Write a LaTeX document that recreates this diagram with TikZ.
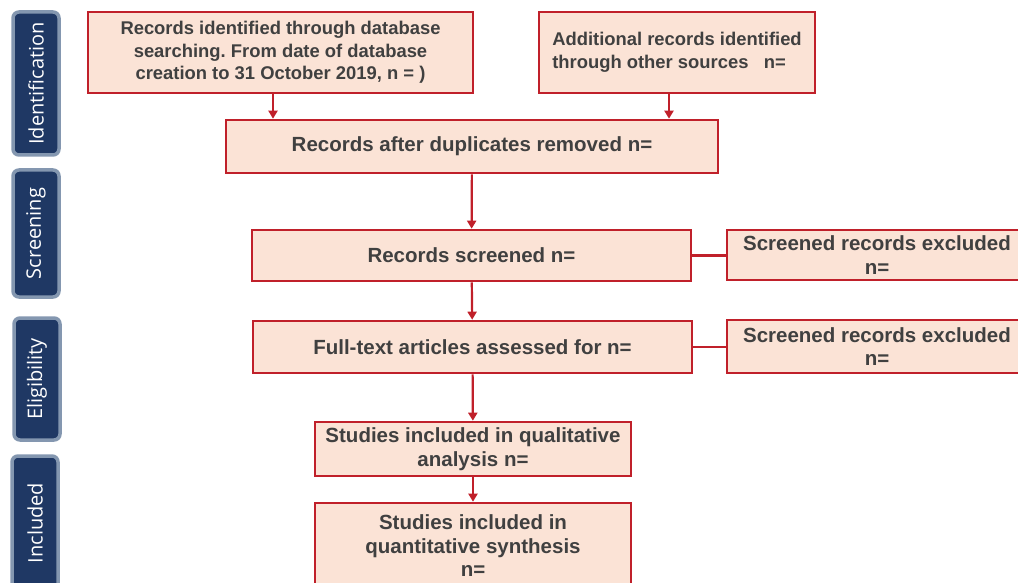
\documentclass[tikz,border=0pt]{standalone}
\usepackage{fontspec}
\setmainfont{Liberation Sans}
\newfontfamily\stagefont{Open Sans}
\usetikzlibrary{arrows.meta}
\definecolor{boxfill}{RGB}{251,227,214}
\definecolor{boxline}{RGB}{192,32,42}
\definecolor{boxtext}{RGB}{64,64,64}
\definecolor{stagefill}{RGB}{31,56,100}
\definecolor{stageline}{RGB}{132,151,176}
\frenchspacing

\begin{document}
\begin{tikzpicture}[x=1pt, y=-1pt,
        box/.style={rectangle, draw=boxline, fill=boxfill, line width=2.6pt, align=center, text=boxtext, font=\fontsize{20.5}{23.5}\selectfont\bfseries, inner sep=0pt},
        smallbox/.style={box, font=\fontsize{18.4}{22.5}\selectfont\bfseries},
        stage/.style={rectangle, rounded corners=6pt, draw=stageline, fill=stagefill, line width=3.5pt, text=white, font=\stagefont\fontsize{20}{22}\selectfont, rotate=90, inner sep=0pt, minimum height=46pt},
        arrow/.style={-{Triangle[length=8pt,width=9pt]}, line width=2.2pt, boxline},
        link/.style={line width=2.2pt, boxline}]

        \useasboundingbox (0,0) rectangle (1018,583);

        % Stages
        \node[stage, minimum width=143pt] (ident) at (36,83.5) {Identification};
        \node[stage, minimum width=127pt] (screen) at (36,233.5) {Screening};
        \node[stage, minimum width=122pt] (elig) at (37,379) {Eligibility};
        \node[stage, minimum width=134pt] (incl) at (35,523) {Included};

        % Identification
        \node[smallbox, minimum width=385pt, minimum height=81pt] (db) at (280.5,52.5) {Records identified through database\\searching. From date of database\\creation to 31 October 2019, n = )};
        \node[smallbox, minimum width=276pt, minimum height=81pt, align=left] (other) at (677,52.5) {Additional records identified\\through other sources \ \ n=};
        \node[box, minimum width=492pt, minimum height=53pt] (dup) at (472,146.5) {Records after duplicates removed n=};

        % Screening
        \node[box, minimum width=439pt, minimum height=51pt] (screened) at (471.5,255.5) {Records screened n=};
        \node[box, minimum width=300pt, minimum height=50pt] (excl1) at (877,255) {Screened records excluded\\n=};

        % Eligibility
        \node[box, minimum width=439pt, minimum height=52pt] (fulltext) at (472.5,347) {Full-text articles assessed for n=};
        \node[box, minimum width=300pt, minimum height=53pt] (excl2) at (877,346.5) {Screened records excluded\\n=};

        % Included
        \node[box, minimum width=316pt, minimum height=54pt] (qual) at (473,449) {Studies included in qualitative\\analysis n=};
        \node[box, minimum width=316pt, minimum height=86pt] (quant) at (473,546) {Studies included in\\quantitative synthesis\\n=};

        % Arrows
        \draw[arrow] ([xshift=-7.5pt]db.south) -- ([xshift=-7.5pt]db.south |- dup.north);
        \draw[arrow] ([xshift=-8pt]other.south) -- ([xshift=-8pt]other.south |- dup.north);
        \draw[arrow] (dup) -- (screened);
        \draw[link] (screened.east) -- (screened.east -| excl1.west);
        \draw[arrow] (screened) -- (fulltext);
        \draw[link] (fulltext.east) -- (fulltext.east -| excl2.west);
        \draw[arrow] (fulltext) -- (qual);
        \draw[arrow] (qual) -- (quant);

    \end{tikzpicture}
\end{document}
